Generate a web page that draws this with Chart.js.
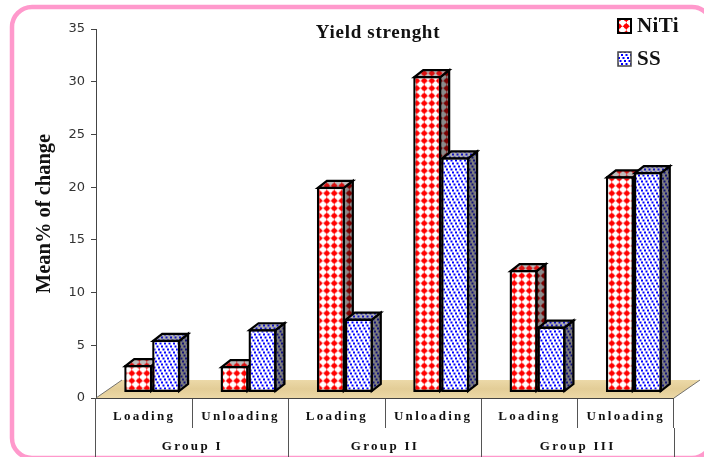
<!DOCTYPE html>
<html><head><meta charset="utf-8">
<style>html,body{margin:0;padding:0;background:#fff}canvas{display:block}</style>
<script src="https://cdn.jsdelivr.net/npm/chart.js@4"></script>
</head><body><div style="width:704px;height:457px"><canvas id="c" width="704" height="457"></canvas></div>
<script>
const categories = ['Loading','Unloading','Loading','Unloading','Loading','Unloading'];
const groups = ['Group I','Group II','Group III'];
const niti = [2.6,2.5,19.5,30.0,11.6,20.5];
const ss = [5.0,6.0,7.0,22.3,6.25,20.9];
const yTicks = [0,5,10,15,20,25,30,35];
const chartTitle = 'Yield strenght';
const yTitle = 'Mean% of change';

function tile(w,h,bg,draw){
  const t=document.createElement('canvas');t.width=w;t.height=h;
  const g=t.getContext('2d');g.fillStyle=bg;g.fillRect(0,0,w,h);draw(g);
  return document.createElement('canvas').getContext('2d').createPattern(t,'repeat');
}
function diamonds(bg,col){
  return tile(15,15,bg,g=>{
    g.fillStyle=col;
    const blob=(x,y)=>{g.beginPath();g.moveTo(x,y-3.8);g.lineTo(x+1.2,y-1.8);g.lineTo(x+3.8,y);g.lineTo(x+1.2,y+1.8);g.lineTo(x,y+3.8);g.lineTo(x-1.2,y+1.8);g.lineTo(x-3.8,y);g.lineTo(x-1.2,y-1.8);g.closePath();g.fill();g.fillRect(x-2,y-2,4,4);};
    [3.75,11.25].forEach(x=>[3.75,11.25].forEach(y=>blob(x,y)));
  });
}
function dots(bg,col){
  return tile(9,9,bg,g=>{
    g.fillStyle=col;
    [[0,0],[4.5,0],[1.5,3],[6,3],[3,6],[7.5,6]].forEach(([x,y])=>{
      g.fillRect(x,y,2,2);
      if(x+2>9) g.fillRect(x-9,y,2,2);
    });
  });
}
const patterns=[
  {front:diamonds('#ffffff','#ff0000'),side:diamonds('#8c8c8c','#7a0000'),top:diamonds('#bdbdbd','#d81010')},
  {front:dots('#ffffff','#0000ff'),side:dots('#7d7d7d','#10107a'),top:dots('#b0b0b0','#1212c0')}
];
const DX=9,DY=7,SHIFTX=8,SHIFTY=5.5;

function poly(ctx,pts,fill){
  ctx.beginPath();pts.forEach((p,i)=>i?ctx.lineTo(p[0],p[1]):ctx.moveTo(p[0],p[1]));ctx.closePath();
  ctx.fillStyle=fill;ctx.fill();ctx.lineWidth=2.2;ctx.strokeStyle='#000';ctx.lineJoin='miter';ctx.stroke();
}

const scene={
  id:'scene',
  beforeDraw(chart){
    const {ctx,scales:{x,y}}=chart;
    ctx.save();
    ctx.strokeStyle='#ff99cc';ctx.lineWidth=4.5;
    ctx.beginPath();ctx.roundRect(12,7,700,451,20);ctx.stroke();
    ctx.restore();
    [x,chart.scales.x2].forEach(s=>{
      if(!s._spaced){const o=s.drawLabels.bind(s);s.drawLabels=a=>{ctx.save();ctx.letterSpacing='2.3px';o(a);ctx.restore();};s._spaced=true;}
    });
    ctx.save();
    ctx.letterSpacing='0.7px';
    ctx.fillStyle='#111';ctx.font='bold 19px "Liberation Serif"';ctx.textAlign='center';ctx.textBaseline='middle';
    ctx.fillText(chartTitle,378,33);
    ctx.restore();
    // legend
    ctx.save();
    ctx.letterSpacing='0.4px';
    [['NiTi',0,26],['SS',1,59]].forEach(([t,i,cy])=>{
      ctx.fillStyle=patterns[i].front;ctx.fillRect(618,cy-7,13,14);
      ctx.lineWidth=i?1.5:2;ctx.strokeStyle=i?'#444':'#000';ctx.strokeRect(618,cy-7,13,14);
      ctx.fillStyle='#111';ctx.font='bold 21px "Liberation Serif"';ctx.textBaseline='middle';
      ctx.fillText(t,637,cy+0.5);
    });
    ctx.restore();
  },
  beforeDatasetsDraw(chart){
    const {ctx,scales:{x,y},chartArea}=chart;
    const b=y.getPixelForValue(0),l=x.left,r=x.right;
    ctx.save();
    const gr=ctx.createLinearGradient(0,b-18,0,b);
    gr.addColorStop(0,'#ecd9a8');gr.addColorStop(.5,'#e3cd97');gr.addColorStop(1,'#ecd8a6');
    ctx.beginPath();ctx.moveTo(l,b);ctx.lineTo(l+26,b-18);ctx.lineTo(r+26,b-18);ctx.lineTo(r,b);ctx.closePath();
    ctx.fillStyle=gr;ctx.fill();
    ctx.strokeStyle='#555';ctx.lineWidth=.8;
    ctx.beginPath();ctx.moveTo(l,b);ctx.lineTo(l+26,b-18);ctx.moveTo(r,b);ctx.lineTo(r+26,b-18);ctx.stroke();
    ctx.restore();
    ctx.save();ctx.strokeStyle='#444';ctx.lineWidth=1;ctx.beginPath();ctx.moveTo(l,b+.5);ctx.lineTo(r,b+.5);ctx.stroke();ctx.restore();
    ctx.save();ctx.translate(SHIFTX,-SHIFTY);
    chart.data.datasets.forEach((d,i)=>{
      const meta=chart.getDatasetMeta(i);
      meta.data.forEach(el=>{
        const p=el.getProps(['x','y','base','width'],true);
        const L=p.x-p.width/2,R=p.x+p.width/2;
        poly(ctx,[[R-1,p.y+1],[R-1+DX,p.y+1-DY],[R-1+DX,p.base-1-DY],[R-1,p.base-1]],patterns[i].side);
        poly(ctx,[[L+1,p.y+1],[L+1+DX,p.y+1-DY],[R-1+DX,p.y+1-DY],[R-1,p.y+1]],patterns[i].top);
        el.draw(ctx,chartArea);
      });
    });
    ctx.restore();
    return false;
  }
};

Chart.defaults.animation=false;
new Chart(document.getElementById('c'),{
  type:'bar',
  data:{labels:categories,datasets:[
    {label:'NiTi',data:niti,backgroundColor:patterns[0].front,borderColor:'#000',borderWidth:2.4,borderSkipped:false},
    {label:'SS',data:ss,backgroundColor:patterns[1].front,borderColor:'#000',borderWidth:2.4,borderSkipped:false}
  ]},
  options:{
    responsive:false,
    animation:false,
    layout:{padding:{top:29,right:30,left:0,bottom:0}},
    barPercentage:1,categoryPercentage:.58,
    plugins:{legend:{display:false},tooltip:{enabled:false},title:{display:false}},
    scales:{
      y:{min:0,max:35,
        afterBuildTicks(s){s.ticks=yTicks.map(v=>({value:v}));},
        afterFit(s){s.width=96;},
        border:{color:'#444'},
        grid:{drawOnChartArea:false,tickLength:5,color:'#444'},
        ticks:{padding:6,color:'#333',font:{family:'"DejaVu Sans"',size:13}},
        title:{display:true,text:yTitle,color:'#111',font:{family:'"Liberation Serif"',weight:'bold',size:20.5},padding:{top:32,bottom:0}}
      },
      x:{position:'bottom',offset:true,
        afterFit(s){s.height=30;},
        border:{display:false},
        grid:{offset:true,drawOnChartArea:false,tickLength:30,color:'#555'},
        ticks:{autoSkip:false,maxRotation:0,padding:-19,color:'#111',font:{family:'"Liberation Serif"',weight:'bold',size:13}}
      },
      x2:{position:'bottom',type:'category',labels:groups,offset:true,
        afterFit(s){s.height=29;},
        border:{display:false},
        grid:{offset:true,drawOnChartArea:false,tickLength:29,color:'#555'},
        ticks:{autoSkip:false,maxRotation:0,padding:-18,color:'#111',font:{family:'"Liberation Serif"',weight:'bold',size:13}}
      }
    }
  },
  plugins:[scene]
});
</script></body></html>
